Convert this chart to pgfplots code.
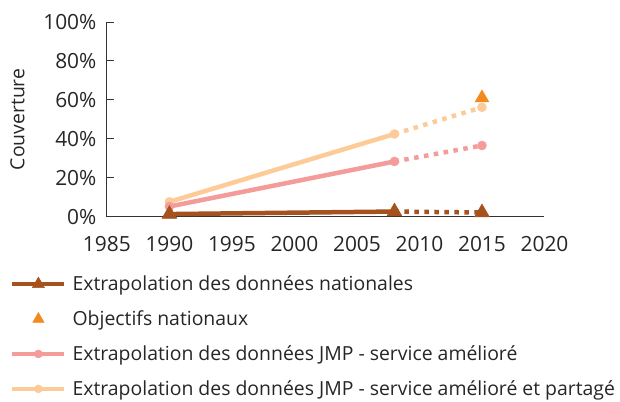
\documentclass[border=0pt]{standalone}
\usepackage{fontspec}
\setmainfont{Open Sans}
\usepackage{pgfplots}
\pgfplotsset{compat=1.18}
\definecolor{cBrown}{HTML}{A5521F}
\definecolor{cOrange}{HTML}{F28A1F}
\definecolor{cPink}{HTML}{F49C9A}
\definecolor{cPeach}{HTML}{FDCB98}
\begin{document}
\begin{tikzpicture}
\begin{axis}[
  scale only axis, width=438bp, height=195bp,
  xmin=1985, xmax=2020, ymin=0, ymax=100,
  clip=false,
  axis x line*=bottom, axis y line*=left,
  axis line style={-, black!80, line width=0.9bp},
  xtick={1985,1990,...,2020}, ytick={0,20,...,100},
  x tick style={draw=none}, y tick style={black!80, line width=0.9bp},
  tick align=inside, major tick length=7bp,
  yticklabel={\pgfmathprintnumber{\tick}\%},
  /pgf/number format/1000 sep={}, /pgf/number format/assume math mode=true,
  tick label style={font=\fontsize{21}{24}\selectfont, text=black!85},
  xticklabel style={yshift=-16bp},
  yticklabel style={xshift=-7bp},
  ylabel={Couverture}, ylabel style={font=\fontsize{19.5}{23}\selectfont, text=black!85, yshift=12bp},
  legend image code/.code={\draw[mark repeat=2,mark phase=2,#1] plot coordinates {(0bp,0bp) (26bp,0bp) (52bp,0bp)};},
  legend style={draw=none, fill=none, at={(axis description cs:0,0)}, anchor=north west,
    xshift=-100bp, yshift=-55bp, row sep=14.6bp, column sep=4bp,
    font=\fontsize{19.5}{23}\selectfont, text=black!85},
  legend cell align=left,
  mk/.style={mark options={solid, line width=0.5bp}},
  dt/.style={dash pattern=on 4.5bp off 5.5bp},
]
\addlegendimage{cBrown, line width=4.5bp, mark=triangle*, mark size=7bp, mk}
\addlegendentry{Extrapolation des données nationales}
\addlegendimage{only marks, cOrange, mark=triangle*, mark size=6.5bp, mk}
\addlegendentry{Objectifs nationaux}
\addlegendimage{cPink, line width=4.5bp, mark=*, mark size=4bp, mk}
\addlegendentry{Extrapolation des données JMP - service amélioré}
\addlegendimage{cPeach, line width=4.5bp, mark=*, mark size=4bp, mk}
\addlegendentry{Extrapolation des données JMP - service amélioré et partagé}

\path (axis description cs:0,1) -- ++(-107bp,22bp);
% peach
\addplot[forget plot, cPeach, line width=4.5bp, mark=*, mark size=4.5bp, mk] coordinates {(1990,7.7) (2008,42.5)};
\addplot[forget plot, cPeach, line width=4.5bp, dt, mark=*, mark size=4.5bp, mk, mark indices={2}] coordinates {(2008,42.5) (2015,56.2)};
% pink
\addplot[forget plot, cPink, line width=4.5bp, mark=*, mark size=4.5bp, mk] coordinates {(1990,5.3) (2008,28.4)};
\addplot[forget plot, cPink, line width=4.5bp, dt, mark=*, mark size=4.5bp, mk, mark indices={2}] coordinates {(2008,28.4) (2015,36.6)};
% brown
\addplot[forget plot, cBrown, line width=4.5bp, mark=triangle*, mark size=8.5bp, mk] coordinates {(1990,1.4) (2008,2.7)};
\addplot[forget plot, cBrown, line width=4.5bp, dt, mark=triangle*, mark size=8.5bp, mk, mark indices={2}] coordinates {(2008,2.7) (2015,2.2)};
% objectif
\addplot[forget plot, only marks, cOrange, mark=triangle*, mark size=8bp, mk] coordinates {(2015,61)};
\end{axis}
\end{tikzpicture}
\end{document}
